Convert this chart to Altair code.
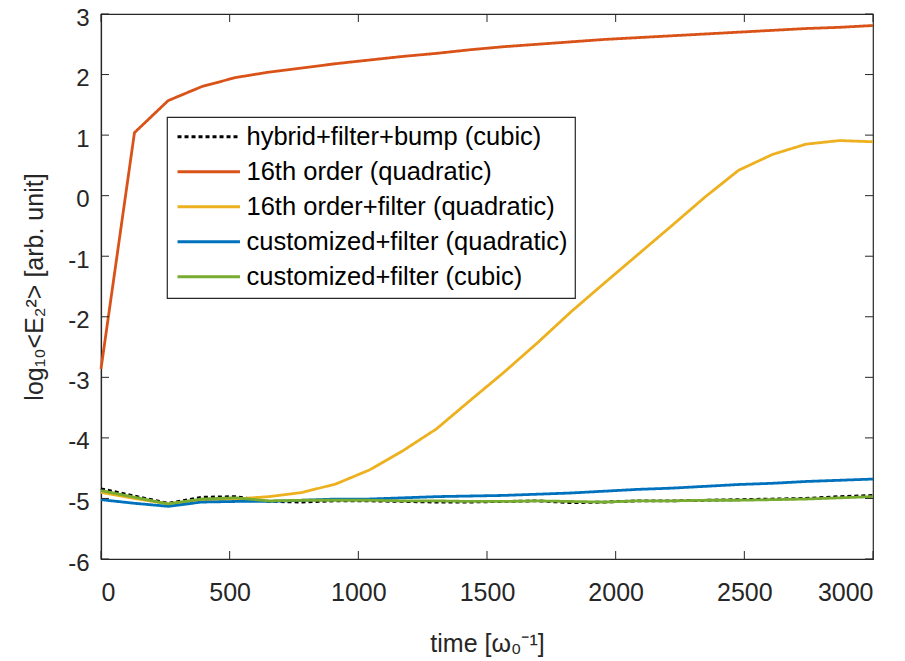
import altair as alt
import pandas as pd

times = [0, 130, 261, 391, 522, 652, 783, 913, 1043, 1174, 1304, 1435,
         1565, 1696, 1826, 1957, 2087, 2217, 2348, 2478, 2609, 2739, 2870, 3000]

series_names = [
    "hybrid+filter+bump (cubic)",
    "16th order (quadratic)",
    "16th order+filter (quadratic)",
    "customized+filter (quadratic)",
    "customized+filter (cubic)",
]
series_colors = ["#000000", "#D95319", "#EDB120", "#0072BD", "#77AC30"]
series_dash = [[4, 3], [1, 0], [1, 0], [1, 0], [1, 0]]

hybrid = [-4.84, -4.96, -5.08, -4.98, -4.97, -5.05, -5.06, -5.04, -5.04, -5.05, -5.06, -5.06,
          -5.05, -5.04, -5.07, -5.06, -5.04, -5.04, -5.03, -5.02, -5.01, -5.00, -4.97, -4.95]
order16 = [-2.86, 1.04, 1.57, 1.80, 1.95, 2.04, 2.11, 2.18, 2.24, 2.30, 2.35, 2.41,
           2.46, 2.50, 2.54, 2.58, 2.61, 2.64, 2.67, 2.70, 2.73, 2.76, 2.78, 2.81]
order16_filter = [-4.90, -5.00, -5.09, -5.02, -5.01, -4.97, -4.90, -4.76, -4.53, -4.21, -3.85, -3.38,
                  -2.92, -2.43, -1.92, -1.44, -0.97, -0.50, -0.02, 0.42, 0.68, 0.85, 0.91, 0.89]
custom_quad = [-5.02, -5.08, -5.13, -5.06, -5.05, -5.05, -5.03, -5.01, -5.01, -4.99, -4.97, -4.96,
               -4.95, -4.93, -4.91, -4.88, -4.85, -4.83, -4.80, -4.77, -4.75, -4.72, -4.70, -4.68]
custom_cubic = [-4.87, -4.98, -5.09, -5.01, -4.99, -5.04, -5.03, -5.03, -5.03, -5.04, -5.04, -5.05,
                -5.05, -5.04, -5.05, -5.06, -5.04, -5.04, -5.03, -5.03, -5.02, -5.01, -4.99, -4.97]

x_ticks = [0, 500, 1000, 1500, 2000, 2500, 3000]
y_ticks = [-6, -5, -4, -3, -2, -1, 0, 1, 2, 3]

all_values = [hybrid, order16, order16_filter, custom_quad, custom_cubic]
rows = []
for name, vals in zip(series_names, all_values):
    for i, (t, v) in enumerate(zip(times, vals)):
        rows.append({"t": t, "v": v, "series": name, "order": i})
df = pd.DataFrame(rows)

W, H = 772, 545
FONT = "Liberation Sans"
AX = "#262626"

xscale = alt.Scale(domain=[0, 3000], nice=False, zero=False)
yscale = alt.Scale(domain=[-6, 3], nice=False, zero=False)

lines = alt.Chart(df).mark_line(strokeWidth=2.8, strokeCap="butt").encode(
    x=alt.X("t:Q", scale=xscale,
            axis=alt.Axis(values=x_ticks, ticks=False, grid=False, domainColor=AX,
                          labelExpr="'' + datum.value",
                          labelColor=AX, labelFontSize=25, labelFont=FONT, labelPadding=21,
                          title="time [ω₀⁻¹]", titleFontSize=25, titleFont=FONT,
                          titleFontWeight="normal", titleColor=AX, titlePadding=26)),
    y=alt.Y("v:Q", scale=yscale,
            axis=alt.Axis(values=y_ticks, ticks=False, grid=False, domainColor=AX,
                          labelExpr="'' + datum.value", labelOffset=4,
                          labelColor=AX, labelFontSize=24, labelFont=FONT, labelPadding=12,
                          title="log₁₀<E₂²> [arb. unit]", titleFontSize=25, titleFont=FONT,
                          titleFontWeight="normal", titleColor=AX, titlePadding=20)),
    color=alt.Color("series:N",
                    scale=alt.Scale(domain=series_names, range=series_colors),
                    sort=series_names,
                    legend=alt.Legend(title=None)),
    strokeDash=alt.StrokeDash("series:N",
                              scale=alt.Scale(domain=series_names, range=series_dash),
                              sort=series_names,
                              legend=alt.Legend(title=None)),
    order="order:Q",
    detail="series:N",
)

xt = pd.DataFrame({"t": x_ticks})
yt = pd.DataFrame({"v": y_ticks})
tick_len = 8
xb = alt.Chart(xt).mark_rule(color=AX, strokeWidth=1).encode(
    x=alt.X("t:Q", scale=xscale), y=alt.value(H), y2=alt.value(H - tick_len))
xtop = alt.Chart(xt).mark_rule(color=AX, strokeWidth=1).encode(
    x=alt.X("t:Q", scale=xscale), y=alt.value(0), y2=alt.value(tick_len))
yl = alt.Chart(yt).mark_rule(color=AX, strokeWidth=1).encode(
    y=alt.Y("v:Q", scale=yscale), x=alt.value(0), x2=alt.value(tick_len))
yr = alt.Chart(yt).mark_rule(color=AX, strokeWidth=1).encode(
    y=alt.Y("v:Q", scale=yscale), x=alt.value(W), x2=alt.value(W - tick_len))

chart = alt.layer(lines, xb, xtop, yl, yr).properties(
    width=W, height=H,
    autosize=alt.AutoSizeParams(type="none"),
    padding={"left": 93, "top": 6, "right": 24, "bottom": 100},
).configure_view(
    stroke=AX, strokeWidth=1.2
).configure_axis(
    domainWidth=1.2
).configure_legend(
    orient="none", legendX=66, legendY=103,
    symbolType="M-5,0H5", symbolSize=156, symbolStrokeWidth=3,
    symbolOffset=22, labelOffset=25,
    labelFontSize=25.5, labelFont=FONT, labelColor="#000000", labelLimit=500,
    padding=7, rowPadding=8,
    fillColor="#ffffff", strokeColor=AX, strokeWidth=1.2, cornerRadius=0,
)

chart.save("out.html", embed_options={"renderer": "svg", "actions": False})
